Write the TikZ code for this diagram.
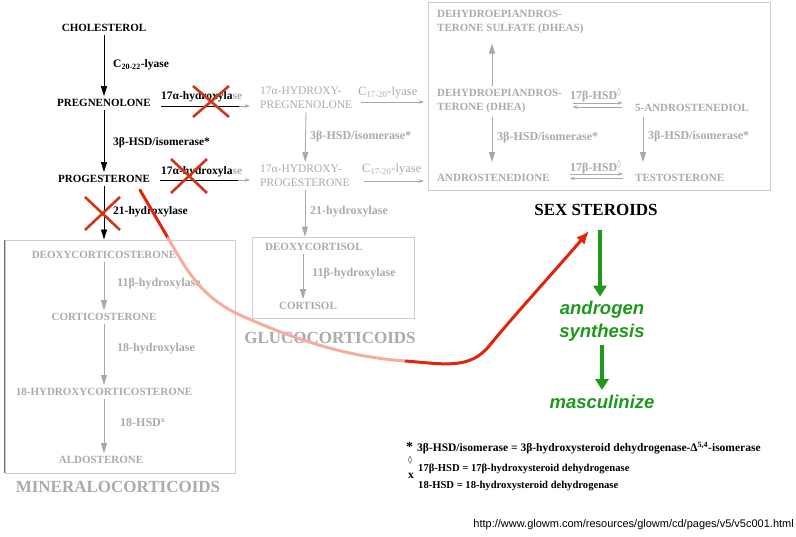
\documentclass[tikz,border=0pt]{standalone}
\usepackage{fontspec}
\setmainfont{Liberation Serif}
\setsansfont{Liberation Sans}
\newfontfamily\symfont{DejaVu Sans}
\usetikzlibrary{arrows.meta}

\definecolor{gtext}{HTML}{ABABAB}
\definecolor{gline}{HTML}{A8A8A8}
\definecolor{gframe}{HTML}{CDCDCD}
\definecolor{xred}{HTML}{D0361A}
\definecolor{cred}{HTML}{E2240B}
\definecolor{cpink}{HTML}{F4ADA0}
\definecolor{cgreen}{HTML}{1E991E}

\tikzset{
  mol/.style={font=\bfseries\fontsize{11}{14}\selectfont, inner xsep=2pt, inner ysep=3pt, align=left},
  blk/.style={mol, text=black},
  gry/.style={mol, text=gtext},
  hyd/.style={font=\fontsize{11.5}{14}\selectfont, text=gtext, inner xsep=2pt, inner ysep=3pt, align=left},
  benz/.style={font=\bfseries\fontsize{11.5}{13}\selectfont, text=black, inner sep=0pt},
  genz/.style={font=\bfseries\fontsize{12}{14}\selectfont, text=gtext, inner sep=0pt},
  lyz/.style={font=\fontsize{12.5}{14}\selectfont, text=gtext, inner sep=0pt},
  group/.style={font=\bfseries\fontsize{17}{20}\selectfont, text=gtext, inner sep=0pt},
  frame/.style={draw=gframe, line width=0.9pt, inner sep=0pt},
  barr/.style={draw=black, line width=0.8pt, -{Triangle[length=10pt,width=6pt]}},
  garr/.style={draw=gline, line width=0.8pt, -{Triangle[length=10pt,width=6pt]}},
  harr/.style={draw=gline, line width=0.7pt, -{Stealth[length=5pt,width=3.5pt]}},
  xmark/.style={draw=xred, line width=2.6pt},
  curve/.style={line width=3pt, line cap=round},
  greenarr/.style={draw=cgreen, line width=3.6pt, -{Triangle[length=11pt,width=13pt]}},
  green/.style={font=\sffamily\bfseries\itshape\fontsize{18.5}{23}\selectfont, text=cgreen, align=center, inner sep=0pt},
  note/.style={font=\bfseries\fontsize{10.6}{12}\selectfont, text=black, inner sep=0pt, anchor=west},
}

\begin{document}
\begin{tikzpicture}[x=1pt,y=-1pt]
\useasboundingbox (0,0) rectangle (796,537);
\fill[white] (0,0) rectangle (796,537);

% ---- group frames ----
\node[frame, minimum width=230pt, minimum height=233pt] (mbox) at (120,356.5) {};
\draw[draw=gray!85!black, line width=0.9pt] (mbox.north west) -- (mbox.south west);
\node[frame, minimum width=162pt, minimum height=81pt] (gbox) at (333,277.5) {};
\node[frame, minimum width=342pt, minimum height=188pt] (sbox) at (599,96) {};

% ---- main pathway ----
\node[blk] (chol) at (104,28) {CHOLESTEROL};
\node[blk] (preg) at (104,103) {PREGNENOLONE};
\node[blk] (prog) at (104,179) {PROGESTERONE};
\draw[barr] (chol) -- (preg);
\draw[barr] (preg) -- (prog);
\draw[barr] (prog) -- (prog |- mbox.north);
\node[benz, anchor=west] at (113,65) {C\textsubscript{20-22}-lyase};
\node[benz, anchor=west] at (113,143) {3β-HSD/isomerase*};
\node[benz, anchor=west] at (113,212) {21-hydroxylase};

% ---- mineralocorticoids ----
\node[gry] (doc) at (104,255) {DEOXYCORTICOSTERONE};
\node[gry] (cort) at (104,317) {CORTICOSTERONE};
\node[gry] (hcort) at (104,392) {18-HYDROXYCORTICOSTERONE};
\node[gry] (aldo) at (101,460) {ALDOSTERONE};
\draw[garr] (doc) -- (cort);
\draw[garr] (cort) -- (hcort);
\draw[garr] (hcort) -- (hcort |- aldo.north);
\node[genz, anchor=west] at (117,284) {11β-hydroxylase};
\node[genz, anchor=west] at (117,349) {18-hydroxylase};
\node[genz, anchor=west] at (120,423) {18-HSD\textsuperscript{x}};
\node[group] (mlab) at (118,487) {MINERALOCORTICOIDS};

% ---- 17-hydroxylated branch ----
\node[hyd, anchor=west] (hpreg) at (258,98) {17α-HYDROXY-\\PREGNENOLONE};
\node[hyd, anchor=west] (hprog) at (258,176) {17α-HYDROXY-\\PROGESTERONE};
\draw[garr] (hpreg) -- (hprog);
\node[genz, anchor=west] at (310,137) {3β-HSD/isomerase*};
\draw[garr] (hprog) -- (hprog |- gbox.north);
\node[genz, anchor=west] at (310,212) {21-hydroxylase};

\draw[harr, shorten <=8.5pt, shorten >=8pt] (preg.east |- 0,106) -- (hpreg.west |- 0,106);
\draw[black, line width=0.7pt] ([xshift=8.5pt]preg.east |- 0,106) -- ++(78,0);
\node[benz, anchor=west] at (161,97) {17α-hydroxyla\textcolor{gtext}{se}};
\draw[harr, shorten <=8pt, shorten >=8pt] (prog.east |- 0,180) -- (hprog.west |- 0,180);
\draw[black, line width=0.7pt] ([xshift=8pt]prog.east |- 0,180) -- ++(78,0);
\node[benz, anchor=west] at (161,172) {17α-hydroxyla\textcolor{gtext}{se}};

% ---- glucocorticoids ----
\node[gry, anchor=west] (dcort) at (263,247) {DEOXYCORTISOL};
\node[gry] (cortisol) at (308,306) {CORTISOL};
\draw[garr] (dcort.south -| 303,0) -- (cortisol.north -| 303,0);
\node[genz, anchor=west] at (312,274) {11β-hydroxylase};
\node[group] (glab) at (330,338) {GLUCOCORTICOIDS};

% ---- sex steroids ----
\node[gry, anchor=west] (dheas) at (435,22.5) {DEHYDROEPIANDROS-\\TERONE SULFATE (DHEAS)};
\node[gry, anchor=west] (dhea) at (435,101.5) {DEHYDROEPIANDROS-\\TERONE (DHEA)};
\node[gry] (adiol) at (692,108) {5-ANDROSTENEDIOL};
\node[gry, anchor=west] (andro) at (435,178) {ANDROSTENEDIONE};
\node[gry, anchor=west] (testo) at (633,178) {TESTOSTERONE};

\draw[harr, shorten <=7pt, shorten >=11pt] (hpreg.east |- 0,102) -- (dhea.west |- 0,102);
\node[lyz, anchor=west] at (358,93) {C\textsubscript{17-20}-lyase};
\draw[harr, shorten <=12pt, shorten >=11pt] (hprog.east |- 0,181) -- (andro.west |- 0,181);
\node[lyz, anchor=west] at (362,170) {C\textsubscript{17-20}-lyase};

\draw[garr, shorten >=6pt] (dhea.north -| 492,0) -- (dheas.south -| 492,0);
\draw[garr, shorten >=9pt] (dhea.south -| 492,0) -- (andro.north -| 492,0);
\draw[garr, shorten <=2pt, shorten >=9pt] (adiol.south -| 643,0) -- (testo.north -| 643,0);
\node[genz, anchor=west] at (497,138) {3β-HSD/isomerase*};
\node[genz, anchor=west] at (648,137) {3β-HSD/isomerase*};

\draw[harr, shorten <=8.5pt, shorten >=10.5pt] (dhea.east |- 0,103) -- (adiol.west |- 0,103);
\draw[harr, shorten <=10.5pt, shorten >=8.5pt] (adiol.west |- 0,107) -- (dhea.east |- 0,107);
\node[genz, anchor=west] at (570,95) {17β-HSD\textsuperscript{\symfont ◊}};
\draw[harr, shorten <=18pt, shorten >=10pt] (andro.east |- 0,174) -- (testo.west |- 0,174);
\draw[harr, shorten <=10pt, shorten >=18pt] (testo.west |- 0,178.5) -- (andro.east |- 0,178.5);
\node[genz, anchor=west] at (570,167) {17β-HSD\textsuperscript{\symfont ◊}};

\node[font=\bfseries\fontsize{17}{20}\selectfont, inner sep=0pt] (ss) at (596,210) {SEX STEROIDS};

% ---- blocked steps ----
\draw[xmark] (193,86) -- (229,117) (193,117) -- (229,86);
\draw[xmark] (171,159) -- (207,193) (171,193) -- (207,159);
\draw[xmark] (85,197) -- (120,230) (85,230) -- (120,197);

% ---- diverted flux towards the sex steroids ----
\coordinate (r0) at (140,190);
\coordinate (r1) at (168,238);
\coordinate (r2) at (240,315);
\coordinate (r3) at (405,361);
\coordinate (r4) at (490,345);
\coordinate (r5) at (589,231);
\draw[curve, cred] (r0) -- (r1);
\draw[curve, cpink] (r1) .. controls (185,267) and (200,297) .. (r2)
                         .. controls (300,342) and (350,357) .. (r3);
\draw[curve, cred, line cap=butt, -{Latex[length=13pt,width=11pt]}]
  (r3) .. controls (445,364) and (470,370) .. (r4)
       .. controls (510,320) and (560,265) .. (r5);

% ---- consequence ----
\node[green] (andsyn) at (602,321) {androgen\\synthesis};
\node[green] (masc) at (602,402) {masculinize};
\draw[greenarr, shorten <=14pt, shorten >=4pt] (ss.south -| 600,0) -- (andsyn.north -| 600,0);
\draw[greenarr, shorten <=4pt, shorten >=5pt] (andsyn.south -| 602,0) -- (masc.north -| 602,0);

% ---- footnotes ----
\node[note, font=\bfseries\fontsize{14}{14}\selectfont] at (406,447) {*};
\node[note, font=\bfseries\fontsize{11.5}{12}\selectfont] at (417,448) {3β-HSD/isomerase = 3β-hydroxysteroid dehydrogenase-Δ\textsuperscript{5,4}-isomerase};
\node[note, font=\symfont\fontsize{8}{8}\selectfont] at (408,460) {◊};
\node[note] at (418,468.5) {17β-HSD = 17β-hydroxysteroid dehydrogenase};
\node[note, font=\bfseries\fontsize{11.5}{12}\selectfont] at (408,476) {x};
\node[note] at (418,486) {18-HSD = 18-hydroxysteroid dehydrogenase};

\node[font=\sffamily\fontsize{11}{13}\selectfont, inner sep=0pt, anchor=east] (url) at (794,525)
  {http://www.glowm.com/resources/glowm/cd/pages/v5/v5c001.html};
\end{tikzpicture}
\end{document}
